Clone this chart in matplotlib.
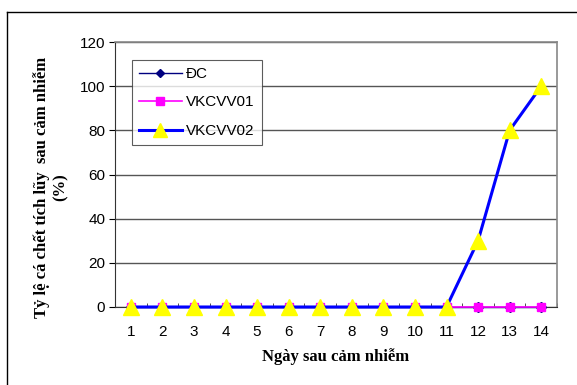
import numpy as np
import matplotlib.pyplot as plt
from matplotlib.lines import Line2D

# data
days = list(range(1, 15))
dc = [0] * 14
vkcvv01 = [0] * 14
vkcvv02 = [0, 0, 0, 0, 0, 0, 0, 0, 0, 0, 0, 30, 80, 100]
y_ticks = [0, 20, 40, 60, 80, 100, 120]

W, H = 577, 385
fig = plt.figure(figsize=(W / 100, H / 100), dpi=100)
ax = fig.add_axes([115 / W, 1 - 307 / H, (557 - 115) / W, (307 - 42) / H])

ax.plot(days, dc, color='#000080', marker='D', markersize=5, linewidth=1,
        label='ĐC', clip_on=False, zorder=3)
ax.plot(days, vkcvv01, color='#FF00FF', marker='s', markersize=6, linewidth=1.2,
        label='VKCVV01', clip_on=False, zorder=4)
ax.plot(days, vkcvv02, color='#0000FF', marker='^', markersize=12, markerfacecolor='#FFFF00',
        markeredgecolor='#FFFF00', linewidth=2.2, label='VKCVV02', clip_on=False, zorder=5)

ax.set_xlim(0.5, 14.5)
ax.set_ylim(0, 120)
ax.set_yticks(y_ticks)
ax.set_xticks(days)
ax.set_xticks(np.arange(0.5, 15, 1), minor=True)
ax.tick_params(axis='x', which='major', length=0, pad=13)
ax.tick_params(axis='x', which='minor', length=3, direction='in', color='#333333')
ax.tick_params(axis='y', length=4, direction='out', pad=3)
for lab in ax.get_xticklabels() + ax.get_yticklabels():
    lab.set_fontfamily('Liberation Sans')
    lab.set_fontsize(11)

ax.yaxis.grid(True, color='#555555', linewidth=1)
ax.set_axisbelow(True)
for s in ['top', 'right']:
    ax.spines[s].set_color('#888888')
    ax.spines[s].set_linewidth(1.2)
ax.spines['left'].set_color('#333333')
ax.spines['bottom'].set_color('#333333')

leg = ax.legend(loc='upper left', bbox_to_anchor=(17 / 442, 1 - 18 / 265),
                prop={'family': 'Liberation Sans', 'size': 11}, frameon=True,
                fancybox=False, borderpad=0.45, labelspacing=0.95, handlelength=2.8,
                handletextpad=0.3, borderaxespad=0, markerscale=0.85)
leg.get_frame().set_edgecolor('#333333')
leg.get_frame().set_linewidth(0.8)

fig.text(336 / W, 1 - 357 / H, 'Ngày sau cảm nhiễm', ha='center', va='center',
         family='Liberation Serif', fontweight='bold', fontsize=12)
fig.text(51 / W, 1 - 187 / H, 'Tỷ lệ cá chết tích lũy  sau cảm nhiễm\n(%)', ha='center',
         va='center', rotation=90, family='Liberation Serif', fontweight='bold',
         fontsize=12, linespacing=1.25)

# outer chart frame (left and top edges visible)
fig.add_artist(Line2D([7 / W, 7 / W], [0, 1 - 12 / H], color='black', linewidth=1))
fig.add_artist(Line2D([7 / W, 1], [1 - 12 / H, 1 - 12 / H], color='black', linewidth=1))

fig.savefig('out.png', dpi=100)
